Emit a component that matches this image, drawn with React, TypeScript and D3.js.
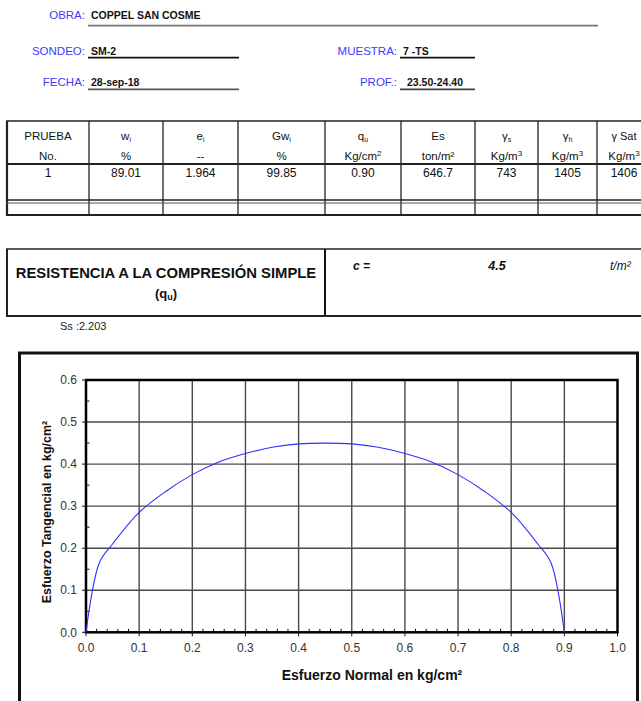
import { scaleLinear, line, curveCatmullRom, range } from "d3";

// header fields
const fieldLabels = ["OBRA:", "SONDEO:", "FECHA:", "MUESTRA:", "PROF.:"];
const fieldValues = ["COPPEL SAN COSME", "SM-2", "28-sep-18", "7 -TS", "23.50-24.40"];

// test table
const colNames = ["PRUEBA", "w", "e", "Gw", "q", "Es", "γ", "γ", "γ Sat"];
const colSubs = ["", "i", "i", "i", "u", "", "s", "h", ""];
const colUnits = ["No.", "%", "--", "%", "Kg/cm", "ton/m²", "Kg/m", "Kg/m", "Kg/m"];
const unitSups = ["", "", "", "", "2", "", "3", "3", "3"];
const testValues = ["1", "89.01", "1.964", "99.85", "0.90", "646.7", "743", "1405", "1406"];

// resistance summary
const cohesion = "4.5";
const cohesionUnit = "t/m²";
const specificGravity = "Ss :2.203";

// Mohr circle (kg/cm²)
const normalStress = [0, 0.025, 0.05, 0.1, 0.15, 0.2, 0.25, 0.3, 0.35, 0.4, 0.45, 0.5, 0.55, 0.6, 0.65, 0.7, 0.75, 0.8, 0.85, 0.875, 0.9];
const shearStress = [0, 0.165, 0.21, 0.285, 0.335, 0.375, 0.405, 0.425, 0.44, 0.448, 0.45, 0.448, 0.44, 0.425, 0.405, 0.375, 0.335, 0.285, 0.21, 0.165, 0];

const xTicks = [0, 0.1, 0.2, 0.3, 0.4, 0.5, 0.6, 0.7, 0.8, 0.9, 1.0];
const yTicks = [0, 0.1, 0.2, 0.3, 0.4, 0.5, 0.6];

const FONT = "'Liberation Sans', Arial, sans-serif";
const BLUE = "#3b3bff";

function Header() {
    const rows = [
        { label: 0, lx: 85, vx: 91, y: 18.5, line: [88, 598, 25.7], stroke: "#777" },
        { label: 1, lx: 85, vx: 91, y: 54.5, line: [88, 239, 57.7], stroke: "#111" },
        { label: 2, lx: 85, vx: 91, y: 86, line: [88, 239, 89.3], stroke: "#555" },
        { label: 3, lx: 397, vx: 403, y: 54.5, line: [400, 475, 57.7], stroke: "#111" },
        { label: 4, lx: 397, vx: 407, y: 86, line: [400, 475, 89.3], stroke: "#444" }
    ];
    return (
        <g fontFamily={FONT}>
            {rows.map(r => (
                <g key={r.label}>
                    <text x={r.lx} y={r.y} textAnchor="end" fontSize={11.5} fill={BLUE}>
                        {fieldLabels[r.label]}
                    </text>
                    <text x={r.vx} y={r.y} fontSize={10.5} fontWeight="bold" fill="#111">
                        {fieldValues[r.label]}
                    </text>
                    <line x1={r.line[0]} x2={r.line[1]} y1={r.line[2]} y2={r.line[2]} stroke={r.stroke} strokeWidth={1.8} />
                </g>
            ))}
        </g>
    );
}

function Table() {
    const edges = [7, 89, 163, 238, 325, 401, 475, 538, 597, 651];
    const top = 121, sep = 164, rowBottom = 200, bottom = 215;
    const centers = edges.slice(0, -1).map((e, i) => (e + edges[i + 1]) / 2);
    return (
        <g fontFamily={FONT} fill="#111">
            {edges.map((x, i) => (
                <line key={`c${i}`} x1={x} x2={x} y1={top} y2={bottom} stroke="#222" strokeWidth={i === 0 ? 2.2 : 1.3} />
            ))}
            <line x1={6} x2={651} y1={top} y2={top} stroke="#222" strokeWidth={1.5} />
            <line x1={6} x2={651} y1={sep} y2={sep} stroke="#222" strokeWidth={2} />
            <line x1={6} x2={651} y1={rowBottom} y2={rowBottom} stroke="#222" strokeWidth={1.5} />
            <line x1={6} x2={651} y1={rowBottom + 3} y2={rowBottom + 3} stroke="#555" strokeWidth={1} />
            <line x1={6} x2={651} y1={bottom} y2={bottom} stroke="#222" strokeWidth={2} />
            {centers.map((cx, i) => (
                <g key={`h${i}`}>
                    <text x={cx} y={140} textAnchor="middle" fontSize={i === 8 ? 11 : 11.5}>
                        {colNames[i]}
                        {colSubs[i] && <tspan fontSize={7} dy={2}>{colSubs[i]}</tspan>}
                    </text>
                    <text x={cx} y={160} textAnchor="middle" fontSize={11.5}>
                        {colUnits[i]}
                        {unitSups[i] && <tspan fontSize={8} dy={-4}>{unitSups[i]}</tspan>}
                    </text>
                    <text x={cx} y={177} textAnchor="middle" fontSize={12}>
                        {testValues[i]}
                    </text>
                </g>
            ))}
        </g>
    );
}

function Resistance() {
    return (
        <g fontFamily={FONT} fill="#111">
            <line x1={6} x2={660} y1={249} y2={249} stroke="#222" strokeWidth={1.5} />
            <line x1={6} x2={660} y1={316} y2={316} stroke="#222" strokeWidth={2} />
            <line x1={7} x2={7} y1={249} y2={316} stroke="#222" strokeWidth={2} />
            <line x1={325} x2={325} y1={249} y2={316} stroke="#111" strokeWidth={2} />
            <text x={166} y={278} textAnchor="middle" fontSize={14.8} fontWeight="bold">
                RESISTENCIA A LA COMPRESIÓN SIMPLE
            </text>
            <text x={166} y={298} textAnchor="middle" fontSize={13} fontWeight="bold">
                (q<tspan fontSize={9} dy={2}>u</tspan><tspan dy={-2}>)</tspan>
            </text>
            <text x={353} y={270} fontSize={12} fontWeight="bold" fontStyle="italic">c =</text>
            <text x={497} y={270} textAnchor="middle" fontSize={12.5} fontWeight="bold" fontStyle="italic">{cohesion}</text>
            <text x={610} y={270} fontSize={12} fontStyle="italic">{cohesionUnit}</text>
            <text x={60} y={330} fontSize={11} fill="#222">{specificGravity}</text>
        </g>
    );
}

function MohrChart() {
    const left = 86, right = 617.5, top = 380, bottom = 632.3;
    const x = scaleLinear().domain([0, 1]).range([left, right]);
    const y = scaleLinear().domain([0, 0.6]).range([bottom, top]);
    const pts = normalStress.map((v, i) => [v, shearStress[i]] as [number, number]);
    const path = line<[number, number]>()
        .x(d => x(d[0]))
        .y(d => y(d[1]))
        .curve(curveCatmullRom.alpha(0.5))(pts);
    const xMinor = range(0, 50).map(i => i * 0.02).filter((_, i) => i % 5 !== 0);
    const yMinor = range(0, 12).map(i => i * 0.05).filter((_, i) => i % 2 === 1);
    return (
        <g fontFamily={FONT}>
            <rect x={19.5} y={353} width={618} height={370} fill="white" stroke="#111" strokeWidth={3} />
            {xTicks.slice(1, -1).map(t => (
                <line key={`gx${t}`} x1={x(t)} x2={x(t)} y1={top} y2={bottom} stroke="#4a4a4a" strokeWidth={1.4} />
            ))}
            {yTicks.slice(1, -1).map(t => (
                <line key={`gy${t}`} x1={left} x2={right} y1={y(t)} y2={y(t)} stroke="#4a4a4a" strokeWidth={1.4} />
            ))}
            {xMinor.map(t => (
                <line key={`mx${t}`} x1={x(t)} x2={x(t)} y1={bottom} y2={bottom - 3.5} stroke="#111" strokeWidth={1} />
            ))}
            {yMinor.map(t => (
                <line key={`my${t}`} x1={left} x2={left + 3.5} y1={y(t)} y2={y(t)} stroke="#111" strokeWidth={1} />
            ))}
            <rect x={left} y={top} width={right - left} height={bottom - top} fill="none" stroke="#000" strokeWidth={2.5} />
            {yTicks.map(t => (
                <g key={`ty${t}`}>
                    <line x1={left - 4} x2={left} y1={y(t)} y2={y(t)} stroke="#111" strokeWidth={1} />
                    <text x={left - 9} y={y(t)} dy="0.35em" textAnchor="end" fontSize={12} fill="#333">
                        {t.toFixed(1)}
                    </text>
                </g>
            ))}
            {xTicks.map(t => (
                <g key={`tx${t}`}>
                    <line x1={x(t)} x2={x(t)} y1={bottom} y2={bottom + 4} stroke="#111" strokeWidth={1} />
                    <text x={x(t)} y={652} textAnchor="middle" fontSize={12} fill="#333">
                        {t.toFixed(1)}
                    </text>
                </g>
            ))}
            <path d={path ?? ""} fill="none" stroke="#3030ff" strokeWidth={1.1} />
            <text x={372} y={680} textAnchor="middle" fontSize={14} fontWeight="bold" fill="#111">
                Esfuerzo Normal en kg/cm²
            </text>
            <text transform="translate(51, 512) rotate(-90)" textAnchor="middle" fontSize={12.5} fontWeight="bold" fill="#111">
                Esfuerzo Tangencial en kg/cm²
            </text>
        </g>
    );
}

export default function App() {
    return (
        <svg
            width={641}
            height={701}
            style={{ position: "absolute", left: 0, top: 0, background: "white" }}
        >
            <rect width={641} height={701} fill="white" />
            <Header />
            <Table />
            <Resistance />
            <MohrChart />
        </svg>
    );
}
